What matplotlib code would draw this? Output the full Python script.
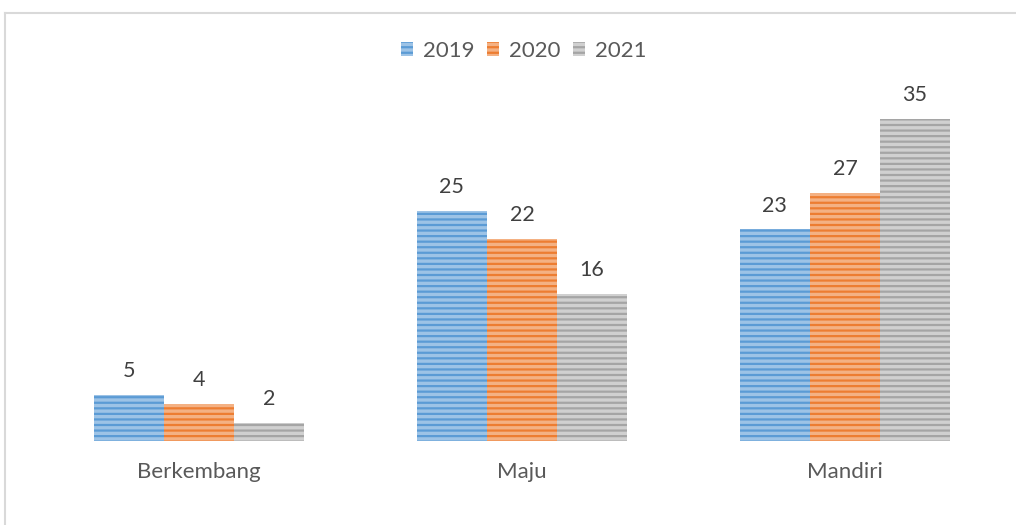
import matplotlib.pyplot as plt
import numpy as np
from matplotlib.lines import Line2D
from matplotlib.patches import Patch

categories = ['Berkembang', 'Maju', 'Mandiri']
years = ['2019', '2020', '2021']
v2019 = [5, 25, 23]
v2020 = [4, 22, 27]
v2021 = [2, 16, 35]

colors = ['#5B9BD5', '#ED7D31', '#A5A5A5']
light = ['#9DC3E6', '#F4B183', '#D0D0D0']

plt.rcParams['font.family'] = ['Lato', 'DejaVu Sans']
plt.rcParams['hatch.linewidth'] = 1.6

fig = plt.figure(figsize=(10.16, 5.25), dpi=100)
ax = fig.add_axes([37.5 / 1016, 84 / 525, 969 / 1016, 368 / 525])

x = np.arange(len(categories))
w = 0.217
series = [v2019, v2020, v2021]
for i, vals in enumerate(series):
    pos = x + (i - 1) * w
    ax.bar(pos, vals, w, color=light[i], edgecolor=colors[i], hatch='---',
           linewidth=0, label=years[i])
    for p, v in zip(pos, vals):
        ax.text(p, v + 1.5, str(v), ha='center', va='bottom', fontsize=15.5,
                color='#404040')

ax.set_xlim(-0.5, 2.5)
ax.set_ylim(0, 40)
ax.set_yticks([])
ax.set_xticks(x)
ax.set_xticklabels(categories, fontsize=16, color='#595959')
ax.tick_params(axis='x', length=0, pad=15)
for s in ax.spines.values():
    s.set_visible(False)

handles = [Patch(facecolor=light[i], edgecolor=colors[i], hatch='---', linewidth=0)
           for i in range(3)]
fig.legend(handles, years, loc='center', bbox_to_anchor=(524 / 1016, 1 - 51 / 525),
           ncol=3, frameon=False, fontsize=16, handlelength=0.55, handleheight=0.55,
           handletextpad=0.45, columnspacing=0.55, labelcolor='#595959')

# chart frame (cut at right/bottom)
fig.add_artist(Line2D([5 / 1016, 1], [1 - 13 / 525, 1 - 13 / 525], color='#D9D9D9', lw=1.5))
fig.add_artist(Line2D([5 / 1016, 5 / 1016], [0, 1 - 13 / 525], color='#D9D9D9', lw=1.5))

fig.savefig('out.png', dpi=100)
